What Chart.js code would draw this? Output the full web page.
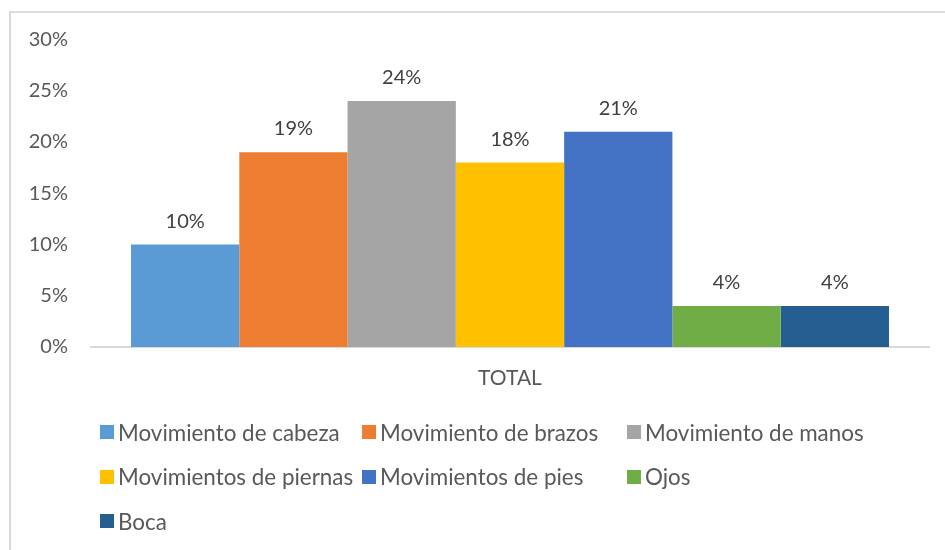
<!DOCTYPE html>
<html>
<head>
<meta charset="utf-8">
<script src="https://cdn.jsdelivr.net/npm/chart.js@4"></script>
<style>
  html, body { margin: 0; padding: 0; background: #fff; }
  #wrap { position: relative; width: 945px; height: 550px; overflow: hidden; }
  #frame { position: absolute; left: 9px; top: 11px; width: 960px; height: 560px;
           border-top: 2px solid #dcdcdc; border-left: 2px solid #d9d9d9; box-sizing: border-box; }
  canvas { position: absolute; left: 0; top: 0; }
  #legend { position: absolute; left: 100px; top: 410px; display: grid;
            grid-template-columns: 262px 265px auto; grid-auto-rows: 44.5px;
            font-family: Lato, sans-serif; font-size: 22.4px; color: #595959; }
  #legend div { display: flex; align-items: center; white-space: nowrap; }
  #legend span.box { width: 14px; height: 14px; margin-right: 4px; display: inline-block; }
</style>
</head>
<body>
<div id="wrap">
  <div id="frame"></div>
  <canvas id="chart" width="945" height="550"></canvas>
  <div id="legend"></div>
</div>
<script>
const categories = ['TOTAL'];
const seriesNames = ['Movimiento de cabeza', 'Movimiento de brazos', 'Movimiento de manos',
  'Movimientos de piernas', 'Movimientos de pies', 'Ojos', 'Boca'];
const seriesValues = [10, 19, 24, 18, 21, 4, 4];
const seriesColors = ['#5B9BD5', '#ED7D31', '#A5A5A5', '#FFC000', '#4472C4', '#70AD47', '#255E91'];
const yTicks = [0, 5, 10, 15, 20, 25, 30];

const fontFam = 'Lato, sans-serif';

// value labels above each bar
const valueLabels = {
  id: 'valueLabels',
  afterDatasetsDraw(chart) {
    const ctx = chart.ctx;
    ctx.save();
    ctx.font = '20px ' + fontFam;
    ctx.fillStyle = '#404040';
    ctx.textAlign = 'center';
    ctx.textBaseline = 'alphabetic';
    chart.data.datasets.forEach((ds, i) => {
      chart.getDatasetMeta(i).data.forEach((bar, j) => {
        ctx.fillText(ds.data[j] + '%', bar.x, bar.y - 17);
      });
    });
    ctx.restore();
  }
};

const datasets = seriesNames.map((name, i) => ({
  label: name,
  data: [seriesValues[i]],
  backgroundColor: seriesColors[i],
  borderWidth: 0,
  categoryPercentage: 0.9045,
  barPercentage: 1.0
}));

const chart = new Chart(document.getElementById('chart'), {
  type: 'bar',
  data: { labels: categories, datasets: datasets },
  options: {
    responsive: false,
    animation: false,
    layout: { padding: { left: 10, top: 39.5, right: 16, bottom: 163 } },
    plugins: { legend: { display: false }, tooltip: { enabled: false } },
    scales: {
      x: {
        grid: { display: false, drawTicks: false },
        border: { display: true, color: '#d9d9d9', width: 2 },
        ticks: { color: '#595959', font: { family: fontFam, size: 21 }, padding: 19 },
        afterFit(s) { s.height = 40; }
      },
      y: {
        min: 0, max: 30,
        afterBuildTicks(s) { s.ticks = yTicks.map(v => ({ value: v })); },
        grid: { display: false, drawTicks: false },
        border: { display: false },
        ticks: { color: '#595959', font: { family: fontFam, size: 20 }, padding: 23,
                 callback: v => v + '%' },
        afterFit(s) { s.width = 81; }
      }
    }
  },
  plugins: [valueLabels]
});

// legend laid out as a grid like the original
const legend = document.getElementById('legend');
chart.data.datasets.forEach(ds => {
  const item = document.createElement('div');
  const box = document.createElement('span');
  box.className = 'box';
  box.style.background = ds.backgroundColor;
  item.appendChild(box);
  item.appendChild(document.createTextNode(ds.label));
  legend.appendChild(item);
});
</script>
</body>
</html>
